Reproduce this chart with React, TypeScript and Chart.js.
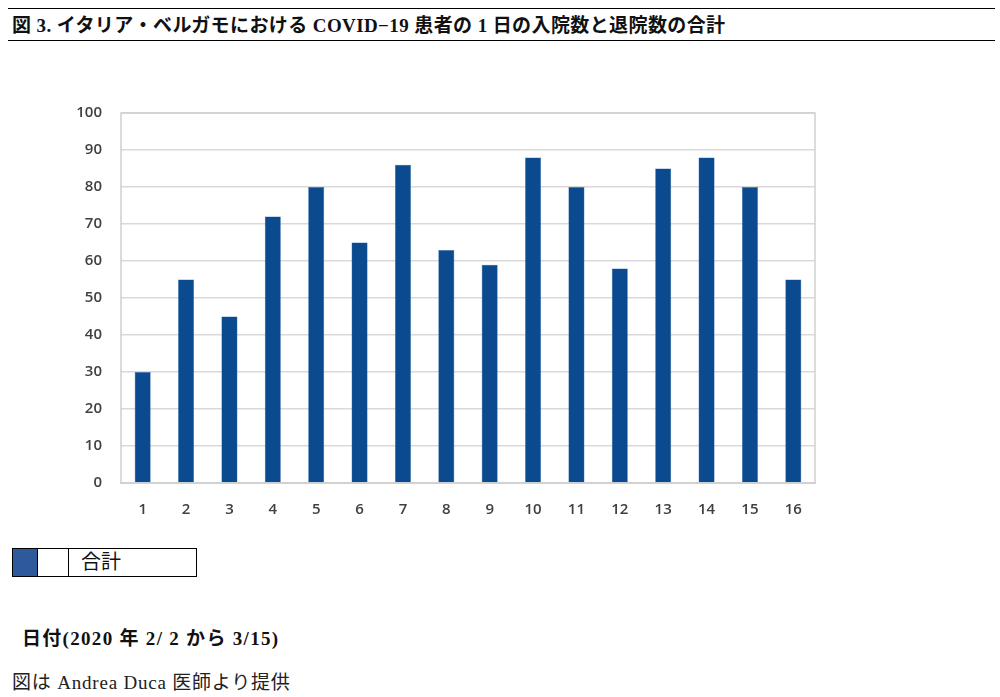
import React, { useEffect, useRef } from "react";
import { Chart, registerables } from "chart.js";

Chart.register(...registerables);

const categories = ["1","2","3","4","5","6","7","8","9","10","11","12","13","14","15","16"];
const totals = [30, 55, 45, 72, 80, 65, 86, 63, 59, 88, 80, 58, 85, 88, 80, 55];
const yTicks = [0, 10, 20, 30, 40, 50, 60, 70, 80, 90, 100];
const titleText = "図 3. イタリア・ベルガモにおける COVID−19 患者の 1 日の入院数と退院数の合計";
const legendLabel = "合計";
const dateText = "日付(2020 年 2/ 2 から 3/15)";
const creditText = "図は Andrea Duca 医師より提供";

const BAR = "#0b4a8e";
const serif = '"Liberation Serif", "DejaVu Serif", "Noto Sans CJK JP", serif';

const boxPlugin = {
  id: "boxBorder",
  afterDraw(chart: any) {
    const { ctx, chartArea } = chart;
    ctx.save();
    ctx.strokeStyle = "#d0d0d0";
    ctx.lineWidth = 1.5;
    ctx.strokeRect(chartArea.left, chartArea.top, chartArea.right - chartArea.left, chartArea.bottom - chartArea.top);
    ctx.restore();
  },
};

export default function App() {
  const ref = useRef<HTMLCanvasElement>(null);
  useEffect(() => {
    document.body.style.margin = "0";
    const tickFont = { family: '"Open Sans", sans-serif', size: 15, weight: 600 as any };
    const chart = new Chart(ref.current!, {
      type: "bar",
      data: {
        labels: categories,
        datasets: [
          {
            label: legendLabel,
            data: totals,
            backgroundColor: BAR,
            borderColor: "#2f6db3",
            borderWidth: 0.5,
            categoryPercentage: 1,
            barPercentage: 0.37,
          },
        ],
      },
      options: {
        animation: false,
        responsive: false,
        maintainAspectRatio: false,
        layout: { padding: { top: 12, right: 15, left: 0, bottom: 0 } },
        plugins: { legend: { display: false }, tooltip: { enabled: false } },
        scales: {
          x: {
            grid: { display: false, drawTicks: false },
            border: { display: true, color: "#d0d0d0", width: 1.5 },
            ticks: { color: "#404040", font: tickFont, padding: 18 },
            afterFit: (s: any) => { s.height = 47; },
          },
          y: {
            min: 0,
            max: 100,
            afterBuildTicks: (s: any) => { s.ticks = yTicks.map((v) => ({ value: v })); },
            grid: { color: "#d9d9d9", lineWidth: 1.5, drawTicks: false },
            border: { display: false },
            ticks: { color: "#404040", font: tickFont, padding: 19 },
            afterFit: (s: any) => { s.width = 61; },
          },
        },
      },
      plugins: [boxPlugin],
    });
    return () => chart.destroy();
  }, []);

  return (
    <div style={{ position: "relative", width: 1000, height: 697, background: "#fff", overflow: "hidden" }}>
      <div style={{ position: "absolute", left: 8, top: 8, width: 987, borderTop: "1.5px solid #000" }} />
      <div style={{ position: "absolute", left: 12, top: 13, fontFamily: serif, fontSize: 19, fontWeight: 700, color: "#111", whiteSpace: "nowrap", lineHeight: "26px", letterSpacing: 0.4 }}>
        {titleText}
      </div>
      <div style={{ position: "absolute", left: 8, top: 40, width: 987, borderTop: "1.5px solid #000" }} />
      <canvas ref={ref} width={770} height={445} style={{ position: "absolute", left: 60, top: 85, width: 770, height: 445 }} />
      <div style={{ position: "absolute", left: 12, top: 548, width: 185, height: 29, border: "1px solid #000", boxSizing: "border-box", display: "flex" }}>
        <div style={{ width: 24, background: "#2e5a9c", borderRight: "1px solid #000" }} />
        <div style={{ width: 30, borderRight: "1px solid #000" }} />
        <div style={{ paddingLeft: 12, fontFamily: serif, fontSize: 20, lineHeight: "27px", color: "#111" }}>{legendLabel}</div>
      </div>
      <div style={{ position: "absolute", left: 22, top: 623, fontFamily: serif, fontSize: 19, fontWeight: 700, color: "#111", whiteSpace: "nowrap", letterSpacing: 1.3 }}>
        {dateText}
      </div>
      <div style={{ position: "absolute", left: 12, top: 667, fontFamily: serif, fontSize: 19, color: "#222", whiteSpace: "nowrap", letterSpacing: 0.8 }}>
        {creditText}
      </div>
    </div>
  );
}
